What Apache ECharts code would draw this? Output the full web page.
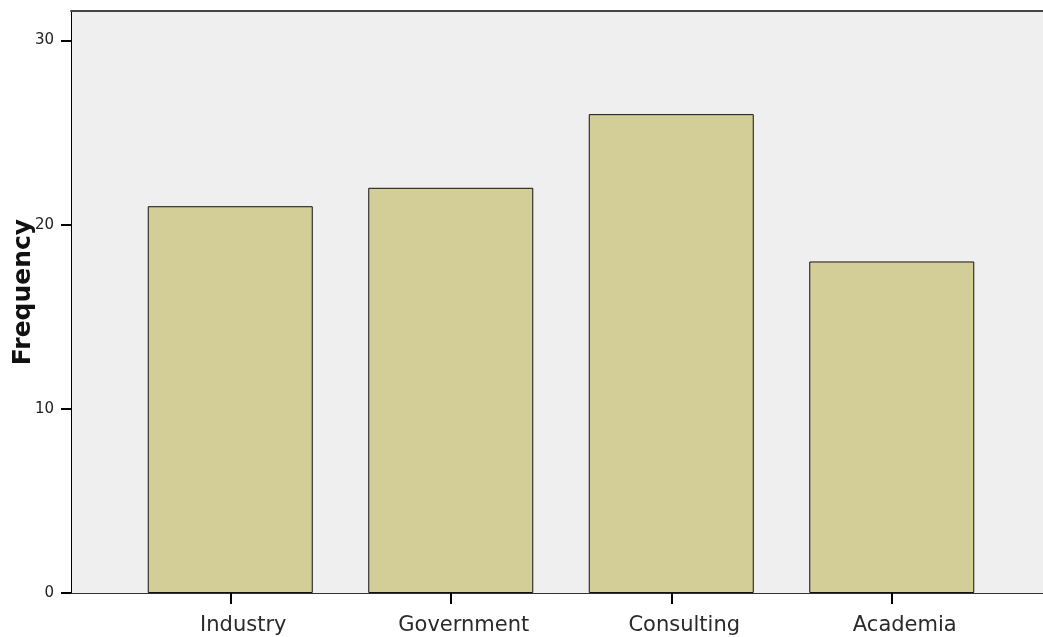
<!DOCTYPE html>
<html><head><meta charset="utf-8">
<script src="https://cdn.jsdelivr.net/npm/echarts@6/dist/echarts.min.js"></script>
<style>html,body{margin:0;padding:0;background:#fff}#c{width:1043px;height:637px}</style>
</head><body><div id="c"></div>
<script>
const categories = ['Industry', 'Government', 'Consulting', 'Academia'];
const frequency = [21, 22, 26, 18];
const yTicks = [0, 10, 20, 30];
const yMax = 31.6;

const chart = echarts.init(document.getElementById('c'), null, {renderer: 'canvas'});
chart.setOption({
  animation: false,
  grid: [
    {left: 71, top: 11, right: 0, bottom: 44, show: true, backgroundColor: '#efefef', borderWidth: 0, outerBoundsMode: 'none', containLabel: false},
    {left: 120, top: 11, width: 882, bottom: 44, outerBoundsMode: 'none', containLabel: false}
  ],
  xAxis: [
    {type: 'value', gridIndex: 0, min: 0, max: 1, axisLine: {show: true, onZero: false, lineStyle: {color: '#333', width: 1}},
     axisTick: {show: false}, axisLabel: {show: false}, splitLine: {show: false}},
    {type: 'value', gridIndex: 0, position: 'top', min: 0, max: 1, axisLine: {show: true, onZero: false, lineStyle: {color: '#444', width: 2}},
     axisTick: {show: false}, axisLabel: {show: false}, splitLine: {show: false}},
    {type: 'category', gridIndex: 1, data: categories, boundaryGap: true,
     axisLine: {show: false}, splitLine: {show: false},
     axisTick: {show: true, alignWithLabel: true, length: 11, lineStyle: {color: '#000', width: 2}},
     axisLabel: {color: '#2a2a2a', fontFamily: 'DejaVu Sans', fontSize: 21, margin: 22, padding: [0, 0, 0, 26]}}
  ],
  yAxis: [
    {type: 'value', gridIndex: 0, min: 0, max: yMax, interval: 10,
     axisLine: {show: true, onZero: false, lineStyle: {color: '#000', width: 1}},
     axisTick: {show: true, length: 10, customValues: yTicks, lineStyle: {color: '#000', width: 2}},
     axisLabel: {color: '#222', fontFamily: 'DejaVu Sans', fontSize: 15, margin: 17, customValues: yTicks},
     splitLine: {show: false},
     name: 'Frequency', nameLocation: 'middle', nameRotate: 90, nameGap: 35, nameMoveOverlap: false,
     nameTextStyle: {fontFamily: 'DejaVu Sans', fontWeight: 'bold', fontSize: 25, color: '#111', padding: [0, 0, 0, 20]}},
    {type: 'value', gridIndex: 1, min: 0, max: yMax, show: false, splitLine: {show: false}}
  ],
  series: [{
    type: 'bar', xAxisIndex: 2, yAxisIndex: 1, data: frequency, barWidth: 165,
    itemStyle: {color: '#d3ce98', borderColor: '#111', borderWidth: 1}
  }]
});
</script></body></html>
